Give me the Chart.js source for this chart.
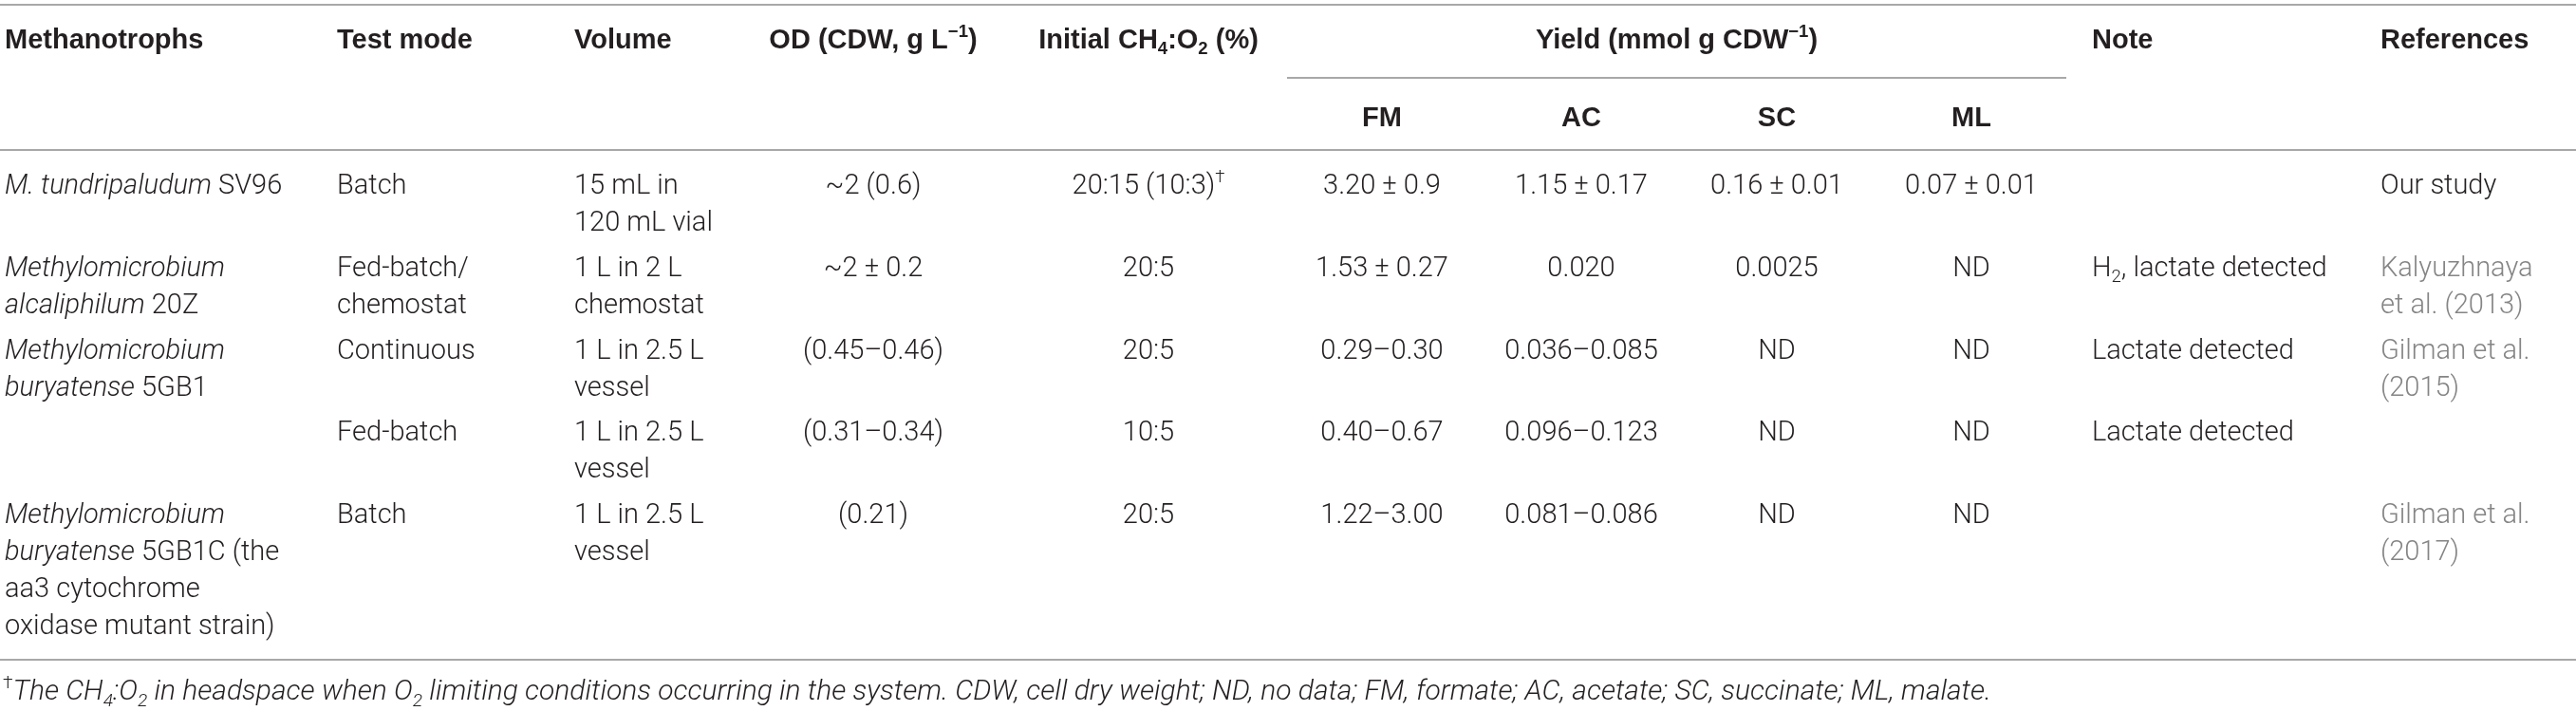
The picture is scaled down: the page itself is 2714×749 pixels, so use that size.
<!DOCTYPE html>
<html>
<head>
<meta charset="utf-8">
<script src="https://cdn.jsdelivr.net/npm/chart.js@4.4.1/dist/chart.umd.min.js"></script>
<style>
  html, body { margin: 0; padding: 0; background: #fff; }
  canvas { display: block; }
</style>
</head>
<body>
<canvas id="table" width="2714" height="749"></canvas>
<script>
// Cell markup: *italic*, _{sub}, ^{sup}, "|" starts a new line inside a cell
const rowKeys = ["SV96", "20Z", "5GB1 continuous", "5GB1 fed-batch", "5GB1C"];

const methanotrophs = [
  "*M. tundripaludum* SV96",
  "*Methylomicrobium*|*alcaliphilum* 20Z",
  "*Methylomicrobium*|*buryatense* 5GB1",
  "",
  "*Methylomicrobium*|*buryatense* 5GB1C (the|aa3 cytochrome|oxidase mutant strain)"
];
const testMode = ["Batch", "Fed-batch/|chemostat", "Continuous", "Fed-batch", "Batch"];
const volume = ["15 mL in|120 mL vial", "1 L in 2 L|chemostat", "1 L in 2.5 L|vessel", "1 L in 2.5 L|vessel", "1 L in 2.5 L|vessel"];
const odValues = ["~2 (0.6)", "~2 ± 0.2", "(0.45–0.46)", "(0.31–0.34)", "(0.21)"];
const initialRatio = ["20:15 (10:3)^{†}", "20:5", "20:5", "10:5", "20:5"];
const yieldFM = ["3.20 ± 0.9", "1.53 ± 0.27", "0.29–0.30", "0.40–0.67", "1.22–3.00"];
const yieldAC = ["1.15 ± 0.17", "0.020", "0.036–0.085", "0.096–0.123", "0.081–0.086"];
const yieldSC = ["0.16 ± 0.01", "0.0025", "ND", "ND", "ND"];
const yieldML = ["0.07 ± 0.01", "ND", "ND", "ND", "ND"];
const notes = ["", "H_{2}, lactate detected", "Lactate detected", "Lactate detected", ""];
const references = ["Our study", "Kalyuzhnaya|et al. (2013)", "Gilman et al.|(2015)", "", "Gilman et al.|(2017)"];

const headers = ["Methanotrophs", "Test mode", "Volume", "OD (CDW, g L^{−1})", "Initial CH_{4}:O_{2} (%)", "Note", "References"];
const yieldTitle = "Yield (mmol g CDW^{−1})";
const yieldHeaders = ["FM", "AC", "SC", "ML"];
const footnote = "^{†}*The CH_{4}:O_{2} in headspace when O_{2} limiting conditions occurring in the system. CDW, cell dry weight; ND, no data; FM, formate; AC, acetate; SC, succinate; ML, malate.*";

// layout
const W = 2714, H = 749;
const BODY_FONT = "Roboto";
const HEAD_FONT = "'Liberation Sans', Arial, sans-serif";
const BODY_SIZE = 29, HEAD_SIZE = 29, NOTE_SIZE = 30;
const LINE_H = 39;
const INK = "#231f20", LINK = "#858585", RULE = "#a8a8a8";

const columns = [
  { values: methanotrophs, x: 5,    align: "left" },
  { values: testMode,      x: 355,  align: "left" },
  { values: volume,        x: 605,  align: "left" },
  { values: odValues,      x: 920,  align: "center" },
  { values: initialRatio,  x: 1210, align: "center" },
  { values: yieldFM,       x: 1456, align: "center" },
  { values: yieldAC,       x: 1666, align: "center" },
  { values: yieldSC,       x: 1872, align: "center" },
  { values: yieldML,       x: 2077, align: "center" },
  { values: notes,         x: 2204, align: "left" },
  { values: references,    x: 2508, align: "left" }
];
const headerCols = [0, 1, 2, 3, 4, 9, 10];
const yieldCols = [5, 6, 7, 8];

// parse markup into segments
function parseRich(str) {
  const segs = [];
  let italic = false, buf = "";
  const flush = () => { if (buf) segs.push({ text: buf, italic, mode: null }); buf = ""; };
  for (let i = 0; i < str.length; i++) {
    const c = str[i];
    if (c === "*") { flush(); italic = !italic; continue; }
    if ((c === "_" || c === "^") && str[i + 1] === "{") {
      flush();
      const end = str.indexOf("}", i);
      segs.push({ text: str.slice(i + 2, end), italic, mode: c === "_" ? "sub" : "sup" });
      i = end;
      continue;
    }
    buf += c;
  }
  flush();
  return segs;
}

function fontFor(seg, o) {
  const size = seg.mode ? o.size * 0.64 : o.size;
  return (seg.italic ? "italic " : "") + o.weight + " " + size + "px " + o.family;
}

function drawRich(ctx, str, x, y, align, o) {
  const segs = parseRich(str);
  let total = 0;
  segs.forEach(s => { ctx.font = fontFor(s, o); s.w = ctx.measureText(s.text).width; total += s.w; });
  let cx = align === "center" ? x - total / 2 : x;
  ctx.fillStyle = o.color;
  ctx.textAlign = "left";
  ctx.textBaseline = "alphabetic";
  segs.forEach(s => {
    ctx.font = fontFor(s, o);
    let dy = 0;
    if (s.mode === "sup") dy = -o.size * 0.4;
    if (s.mode === "sub") dy = o.size * 0.22;
    ctx.fillText(s.text, cx, y + dy);
    cx += s.w;
  });
}

const bodyStyle = { family: BODY_FONT, weight: 300, size: BODY_SIZE, color: INK };
const headStyle = { family: HEAD_FONT, weight: "bold", size: HEAD_SIZE, color: INK };

function rule(ctx, x1, x2, y) {
  ctx.beginPath();
  ctx.moveTo(x1, y);
  ctx.lineTo(x2, y);
  ctx.stroke();
}

const tableText = {
  id: "tableText",
  afterDatasetsDraw(chart) {
    const ctx = chart.ctx;
    const xs = chart.scales.x;
    ctx.save();

    // rules
    ctx.strokeStyle = RULE;
    ctx.lineWidth = 2;
    rule(ctx, 0, W, 5);
    rule(ctx, xs.getPixelForValue(1356), xs.getPixelForValue(2177), 82);
    rule(ctx, 0, W, 158);
    rule(ctx, 0, W, 695);

    // headers
    headerCols.forEach((ci, k) => {
      const col = columns[ci];
      drawRich(ctx, headers[k], xs.getPixelForValue(col.x), 51, col.align, headStyle);
    });
    drawRich(ctx, yieldTitle, xs.getPixelForValue((1356 + 2177) / 2), 51, "center", headStyle);
    yieldCols.forEach((ci, k) => {
      drawRich(ctx, yieldHeaders[k], xs.getPixelForValue(columns[ci].x), 133, "center", headStyle);
    });

    // body cells, positioned on each dataset's points
    chart.data.datasets.forEach((ds, di) => {
      const col = columns[di];
      chart.getDatasetMeta(di).data.forEach((pt, ri) => {
        const cell = col.values[ri];
        if (!cell) return;
        const style = Object.assign({}, bodyStyle);
        if (col.values === references && cell.includes("et al.")) style.color = LINK;
        cell.split("|").forEach((line, li) => {
          drawRich(ctx, line, pt.x, pt.y + li * LINE_H, col.align, style);
        });
      });
    });

    // footnote
    drawRich(ctx, footnote, 3, 737, "left", Object.assign({}, bodyStyle, { size: NOTE_SIZE }));
    ctx.restore();
  }
};

new Chart(document.getElementById("table"), {
  type: "scatter",
  data: {
    datasets: columns.map(col => ({
      data: col.values.map((v, i) => ({ x: col.x, y: rowKeys[i] })),
      pointRadius: 0
    }))
  },
  options: {
    responsive: false,
    animation: false,
    devicePixelRatio: 1,
    layout: { padding: { top: 204, bottom: H - 551, left: 0, right: 0 } },
    scales: {
      x: { type: "linear", min: 0, max: W, display: false },
      y: { type: "category", labels: rowKeys, offset: false, display: false }
    },
    plugins: { legend: { display: false }, tooltip: { enabled: false } }
  },
  plugins: [tableText]
});
</script>
</body>
</html>
